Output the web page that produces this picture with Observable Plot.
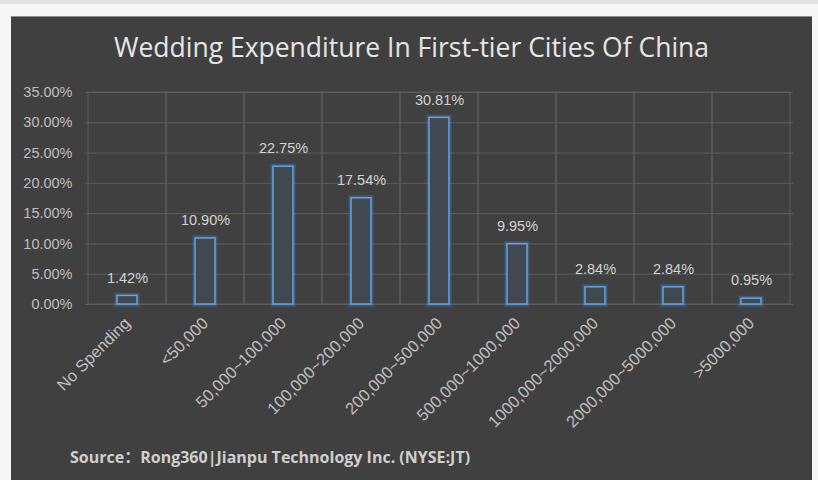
<!DOCTYPE html>
<html>
<head>
<meta charset="utf-8">
<script src="https://cdn.jsdelivr.net/npm/d3@7"></script>
<script src="https://cdn.jsdelivr.net/npm/@observablehq/plot@0.6"></script>
<style>
  html, body { margin: 0; padding: 0; }
  body { width: 818px; height: 480px; background: #f6f6f6; position: relative; overflow: hidden; font-family: "Open Sans", "Noto Sans CJK SC", sans-serif; }
  #strip { position: absolute; left: 0; top: 0; width: 818px; height: 4px; background: #e1e1e1; }
  #panel { position: absolute; left: 11px; top: 16px; width: 801px; height: 464px; background: #404040; border-top: 1px solid #8c8c8c; box-sizing: border-box; }
  #title { position: absolute; left: 11px; width: 801px; top: 31px; text-align: center; font-size: 26.5px; line-height: 32px; color: #e6e6e6; font-family: "Open Sans", sans-serif; }
  #chart { position: absolute; left: 0; top: 60px; }
  #source { position: absolute; left: 70px; top: 447px; font-size: 16px; line-height: 20px; font-weight: bold; color: #cfcfcf; font-family: "Open Sans", "Noto Sans CJK SC", sans-serif; }
</style>
</head>
<body>
<div id="strip"></div>
<div id="panel"></div>
<div id="title">Wedding Expenditure In First-tier Cities Of China</div>
<div id="chart"></div>
<div id="source">Source：Rong360|Jianpu Technology Inc. (NYSE:JT)</div>
<script>
const categories = ["No Spending", "<50,000", "50,000~100,000", "100,000~200,000", "200,000~500,000", "500,000~1000,000", "1000,000~2000,000", "2000,000~5000,000", ">5000,000"];
const shares = [1.42, 10.90, 22.75, 17.54, 30.81, 9.95, 2.84, 2.84, 0.95];
const yTicks = [0, 5, 10, 15, 20, 25, 30, 35];
const yMax = 35;

const data = categories.map((c, i) => ({category: c, share: shares[i]}));
const fmt = d => d.toFixed(2) + "%";

const chart = Plot.plot({
  width: 818,
  height: 380,
  marginTop: 32,
  marginBottom: 136,
  marginLeft: 85,
  marginRight: 25,
  style: { background: "transparent", color: "#bfbfbf", fontSize: "14px", fontFamily: "Liberation Sans, sans-serif" },
  x: { type: "band", domain: categories, padding: 0, label: null },
  y: { domain: [0, yMax], label: null },
  marks: [
    Plot.ruleY(yTicks, { stroke: "#5c5c5c", strokeWidth: 1 }),
    Plot.barY(categories, { x: d => d, y1: () => 0, y2: () => yMax, fill: "none", stroke: "#5c5c5c", strokeWidth: 1 }),
    Plot.barY(data, { x: "category", y: "share", fill: "none", stroke: "#3f86d6", strokeOpacity: 0.35, strokeWidth: 5, insetLeft: 29, insetRight: 29 }),
    Plot.barY(data, { x: "category", y: "share", fill: "#424850", stroke: "#62a3e3", strokeWidth: 1.5, insetLeft: 29, insetRight: 29 }),
    Plot.text(data, { x: "category", y: "share", text: d => fmt(d.share), dy: -18, fill: "#d2d2d2", fontSize: 14.5 }),
    Plot.axisY({ ticks: yTicks, tickFormat: fmt, tickSize: 0, tickPadding: 13, fontSize: 14.5, fill: "#bfbfbf" }),
    Plot.axisX({ tickSize: 0, tickRotate: -45, tickPadding: 16, fontSize: 16.5, fill: "#bfbfbf" })
  ]
});
document.getElementById("chart").appendChild(chart);
</script>
</body>
</html>
